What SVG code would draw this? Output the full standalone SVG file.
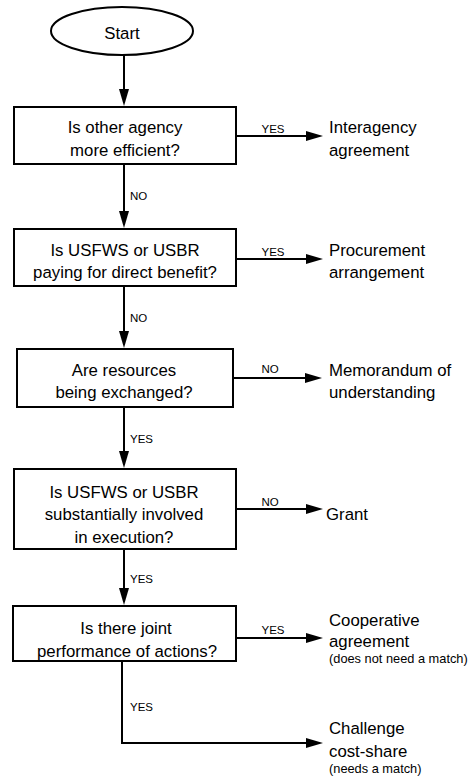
<svg xmlns="http://www.w3.org/2000/svg" width="473" height="777" viewBox="0 0 473 777">
<defs>
<marker id="ah" viewBox="0 0 17 10" refX="1" refY="5" markerWidth="17" markerHeight="10" markerUnits="userSpaceOnUse" orient="auto">
<path d="M0,0 L17,5 L0,10 z" fill="#000"/>
</marker>
<style>
.box{fill:#fff;stroke:#000;stroke-width:2}
.t{font-family:"Liberation Sans",Arial,sans-serif;font-size:16.8px;fill:#000}
.c{text-anchor:middle}
.l{font-family:"Liberation Sans",Arial,sans-serif;font-size:11.5px;fill:#000}
.s{font-family:"Liberation Sans",Arial,sans-serif;font-size:12.8px;fill:#000}
.e{fill:none;stroke:#000;stroke-width:2;marker-end:url(#ah)}
</style>
</defs>
<rect width="473" height="777" fill="#fff"/>
<g id="connectors">
<path class="e" d="M124,55 V90"/>
<path class="e" d="M237,136 H307"/>
<path class="e" d="M124,164 V212"/>
<path class="e" d="M237,259 H307"/>
<path class="e" d="M124,287 V332"/>
<path class="e" d="M234,378 H306"/>
<path class="e" d="M124,408 V452"/>
<path class="e" d="M237,509 H307"/>
<path class="e" d="M124,550 V589"/>
<path class="e" d="M237,638 H307"/>
<path class="e" d="M122,662 V743 H307"/>
<text class="l c" x="273" y="133">YES</text>
<text class="l" x="130" y="200">NO</text>
<text class="l c" x="273" y="256">YES</text>
<text class="l" x="130" y="322">NO</text>
<text class="l c" x="270" y="373">NO</text>
<text class="l" x="130" y="443">YES</text>
<text class="l c" x="270" y="506">NO</text>
<text class="l" x="130" y="583">YES</text>
<text class="l c" x="273" y="634">YES</text>
<text class="l" x="130" y="711">YES</text>
</g>
<g id="start">
<ellipse class="box" cx="122" cy="31" rx="71" ry="24"/>
<text class="t c" x="122" y="39">Start</text>
</g>
<g id="q1">
<rect class="box" x="14" y="107" width="222" height="57"/>
<text class="t c" x="125" y="133">Is other agency</text>
<text class="t c" x="125" y="156">more efficient?</text>
</g>
<g id="r1">
<text class="t" x="329" y="133">Interagency</text>
<text class="t" x="329" y="156">agreement</text>
</g>
<g id="q2">
<rect class="box" x="14" y="229" width="222" height="57"/>
<text class="t c" x="125" y="256">Is USFWS or USBR</text>
<text class="t c" x="125" y="278">paying for direct benefit?</text>
</g>
<g id="r2">
<text class="t" x="329" y="256">Procurement</text>
<text class="t" x="329" y="278">arrangement</text>
</g>
<g id="q3">
<rect class="box" x="17" y="349" width="216" height="58"/>
<text class="t c" x="124" y="376">Are resources</text>
<text class="t c" x="124" y="398">being exchanged?</text>
</g>
<g id="r3">
<text class="t" x="329" y="376">Memorandum of</text>
<text class="t" x="329" y="398">understanding</text>
</g>
<g id="q4">
<rect class="box" x="14" y="469" width="222" height="80"/>
<text class="t c" x="124" y="498">Is USFWS or USBR</text>
<text class="t c" x="124" y="520">substantially involved</text>
<text class="t c" x="124" y="543">in execution?</text>
</g>
<g id="r4">
<text class="t" x="326" y="520">Grant</text>
</g>
<g id="q5">
<rect class="box" x="13" y="606" width="223" height="55"/>
<text class="t c" x="126" y="634">Is there joint</text>
<text class="t c" x="127" y="657">performance of actions?</text>
</g>
<g id="r5">
<text class="t" x="329" y="626">Cooperative</text>
<text class="t" x="329" y="647">agreement</text>
<text class="s" x="329" y="663">(does not need a match)</text>
</g>
<g id="r6">
<text class="t" x="329" y="734">Challenge</text>
<text class="t" x="329" y="757">cost-share</text>
<text class="s" x="329" y="773">(needs a match)</text>
</g>
</svg>
